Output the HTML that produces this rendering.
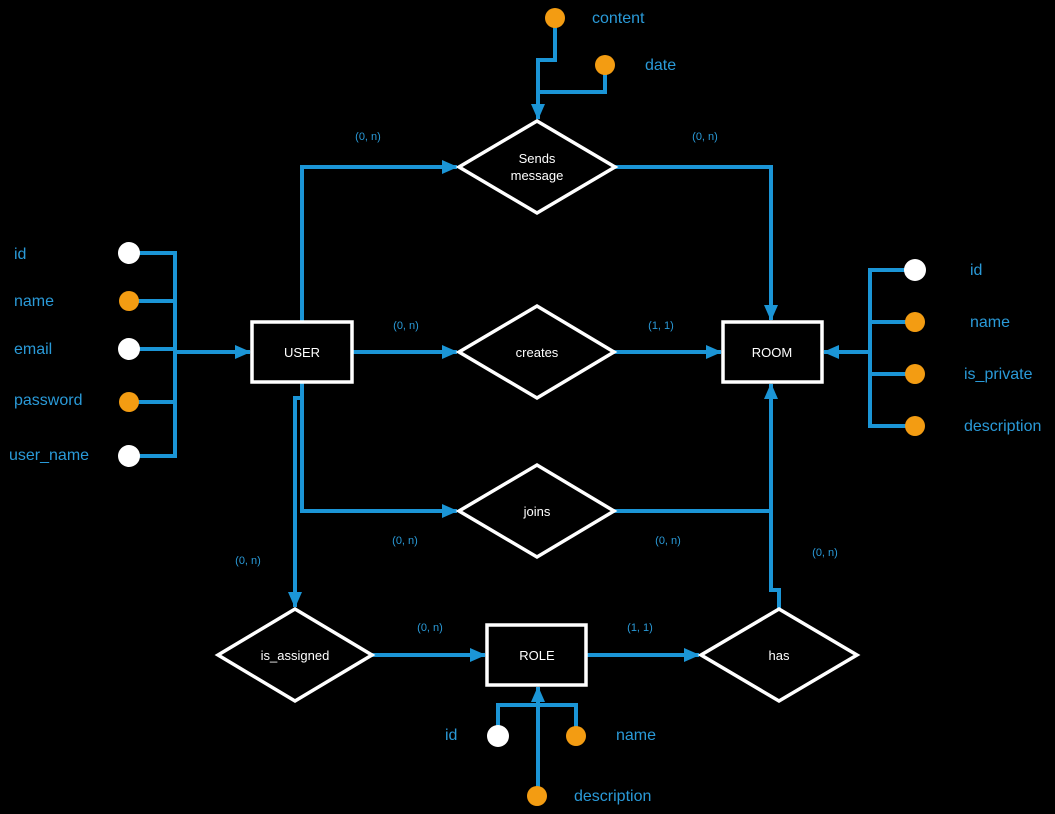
<!DOCTYPE html>
<html><head><meta charset="utf-8"><style>
html,body{margin:0;padding:0;background:#000;}
svg{display:block}
text{font-family:"Liberation Sans",sans-serif}
.l{stroke:#1b95d6;stroke-width:4;fill:none}
.s{stroke:#fff;stroke-width:3.5;fill:#000}
.t{fill:#fff;font-size:13px;text-anchor:middle}
.a{fill:#2a9ad8;font-size:16px}
.c{fill:#2a9ad8;font-size:11px;text-anchor:middle}
</style></head><body>
<svg width="1055" height="814" viewBox="0 0 1055 814" xmlns="http://www.w3.org/2000/svg">
<defs><marker id="ar" markerWidth="10" markerHeight="10" refX="8" refY="5" orient="auto" markerUnits="userSpaceOnUse" viewBox="0 0 10 10"><path d="M0,0 L10,5 L0,10 z" fill="#1b95d6"/></marker>
<marker id="arb" markerWidth="16" markerHeight="14" refX="15" refY="7" orient="auto" markerUnits="userSpaceOnUse" viewBox="0 0 16 14"><path d="M0,0 L16,7 L0,14 z" fill="#1b95d6"/></marker></defs>
<!-- connectors -->
<path class="l" d="M302,322 V167 H457" marker-end="url(#arb)"/>
<path class="l" d="M615,167 H771 V320" marker-end="url(#arb)"/>
<path class="l" d="M352,352 H457" marker-end="url(#arb)"/>
<path class="l" d="M614,352 H721" marker-end="url(#arb)"/>
<path class="l" d="M302,382 V511 H457" marker-end="url(#arb)"/>
<path class="l" d="M614,511 H771"/>
<path class="l" d="M779,609 V590 H771 V384" marker-end="url(#arb)"/>
<path class="l" d="M302,398 H295 V607" marker-end="url(#arb)"/>
<path class="l" d="M372,655 H485" marker-end="url(#arb)"/>
<path class="l" d="M586,655 H699" marker-end="url(#arb)"/>
<!-- user attrs -->
<path class="l" d="M129,253 H175 V456 H129 M129,301 H175 M129,349 H175 M129,402 H175"/>
<path class="l" d="M175,352 H250" marker-end="url(#arb)"/>
<!-- room attrs -->
<path class="l" d="M915,270 H870 V426 H915 M870,322 H915 M870,374 H915"/>
<path class="l" d="M870,352 H824" marker-end="url(#arb)"/>
<!-- sends attrs -->
<path class="l" d="M555,18 V60 H538 V119" marker-end="url(#arb)"/>
<path class="l" d="M605,65 V92 H538"/>
<!-- role attrs -->
<path class="l" d="M498,735 V705 H576 V735"/>
<path class="l" d="M538,796 V687" marker-end="url(#arb)"/>
<!-- shapes -->
<polygon class="s" points="459,167 537,121 615,167 537,213"/>
<polygon class="s" points="459,352 537,306 614,352 537,398"/>
<polygon class="s" points="459,511 537,465 614,511 537,557"/>
<polygon class="s" points="218,655 295,609 372,655 295,701"/>
<polygon class="s" points="701,655 779,609 857,655 779,701"/>
<rect class="s" x="252" y="322" width="100" height="60"/>
<rect class="s" x="723" y="322" width="99" height="60"/>
<rect class="s" x="487" y="625" width="99" height="60"/>
<text class="t" x="537" y="163">Sends</text><text class="t" x="537" y="180">message</text>
<text class="t" x="537" y="357">creates</text>
<text class="t" x="537" y="516">joins</text>
<text class="t" x="295" y="660">is_assigned</text>
<text class="t" x="779" y="660">has</text>
<text class="t" x="302" y="357">USER</text>
<text class="t" x="772" y="357">ROOM</text>
<text class="t" x="537" y="660">ROLE</text>
<!-- circles -->
<g fill="#fff"><circle cx="129" cy="253" r="11"/><circle cx="129" cy="349" r="11"/><circle cx="129" cy="456" r="11"/><circle cx="915" cy="270" r="11"/><circle cx="498" cy="736" r="11"/></g>
<g fill="#f39c12"><circle cx="129" cy="301" r="10"/><circle cx="129" cy="402" r="10"/><circle cx="915" cy="322" r="10"/><circle cx="915" cy="374" r="10"/><circle cx="915" cy="426" r="10"/><circle cx="555" cy="18" r="10"/><circle cx="605" cy="65" r="10"/><circle cx="576" cy="736" r="10"/><circle cx="537" cy="796" r="10"/></g>
<!-- attr labels -->
<text class="a" x="14" y="259">id</text>
<text class="a" x="14" y="306">name</text>
<text class="a" x="14" y="354">email</text>
<text class="a" x="14" y="405">password</text>
<text class="a" x="9" y="460">user_name</text>
<text class="a" x="970" y="275">id</text>
<text class="a" x="970" y="327">name</text>
<text class="a" x="964" y="379">is_private</text>
<text class="a" x="964" y="431">description</text>
<text class="a" x="592" y="23">content</text>
<text class="a" x="645" y="70">date</text>
<text class="a" x="445" y="740">id</text>
<text class="a" x="616" y="740">name</text>
<text class="a" x="574" y="801">description</text>
<!-- cardinalities -->
<text class="c" x="368" y="140">(0, n)</text>
<text class="c" x="705" y="140">(0, n)</text>
<text class="c" x="406" y="329">(0, n)</text>
<text class="c" x="661" y="329">(1, 1)</text>
<text class="c" x="405" y="544">(0, n)</text>
<text class="c" x="668" y="544">(0, n)</text>
<text class="c" x="248" y="564">(0, n)</text>
<text class="c" x="825" y="556">(0, n)</text>
<text class="c" x="430" y="631">(0, n)</text>
<text class="c" x="640" y="631">(1, 1)</text>
</svg>
</body></html>
